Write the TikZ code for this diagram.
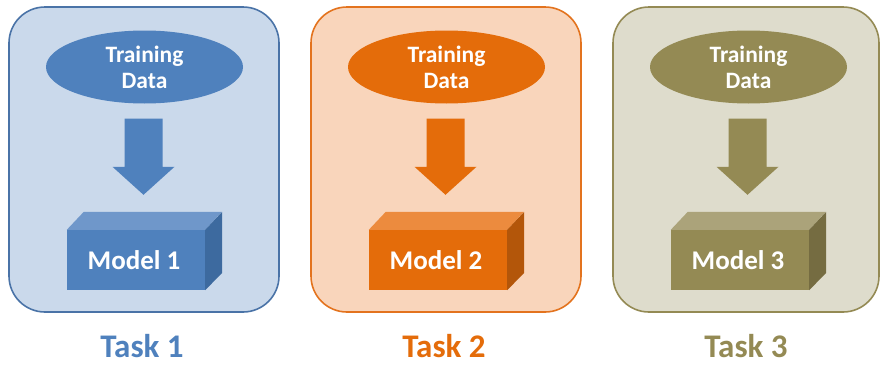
\documentclass[tikz,border=0pt]{standalone}
\usepackage{fontspec}
\setmainfont{Carlito}
\usetikzlibrary{calc,shapes.geometric}

% colour sets: main, lighter top, darker side, panel fill, panel edge
\definecolor{mainA}{HTML}{4F81BD}\definecolor{topA}{HTML}{6F97CA}\definecolor{sideA}{HTML}{3D6A9F}
\definecolor{fillA}{HTML}{CAD9EB}\definecolor{edgeA}{HTML}{4A73A7}
\definecolor{mainB}{HTML}{E46C0A}\definecolor{topB}{HTML}{EC8B3E}\definecolor{sideB}{HTML}{B3560A}
\definecolor{fillB}{HTML}{F9D5BB}\definecolor{edgeB}{HTML}{E3731E}
\definecolor{mainC}{HTML}{948A54}\definecolor{topC}{HTML}{ABA37A}\definecolor{sideC}{HTML}{756C41}
\definecolor{fillC}{HTML}{DEDCCC}\definecolor{edgeC}{HTML}{948A54}

\tikzset{
  panel/.style={rounded corners=36pt, line width=1.6pt},
  datanode/.style={ellipse, minimum width=197pt, minimum height=73pt, inner sep=0pt,
    text=white, font=\bfseries\fontsize{23.5}{26}\selectfont, align=center},
  modelnode/.style={rectangle, minimum width=138pt, minimum height=60pt, inner sep=0pt,
    text=white, font=\bfseries\fontsize{27}{30}\selectfont},
  tasklabel/.style={font=\bfseries\fontsize{33}{36}\selectfont},
}

\begin{document}
\begin{tikzpicture}[x=1pt,y=-1pt]
\useasboundingbox (0,0) rectangle (881,367);

\foreach \i/\ox/\w/\c in {1/0/270/A, 2/302/270/B, 3/604/266/C}{
  % panel background
  \draw[panel, draw=edge\c, fill=fill\c] (9+\ox,7) rectangle ++(\w,305);
  % training data ellipse
  \node[datanode, fill=main\c] (td\i) at (144.5+\ox,67) {Training\\Data};
  % model block (front face)
  \node[modelnode, fill=main\c] (m\i) at (136+\ox,260) {};
  % top and side faces of the block
  \fill[top\c] (m\i.north west) -- ++(17,-18) -- ++(138,0) -- (m\i.north east) -- cycle;
  \fill[side\c] (m\i.north east) -- ++(17,-18) -- ++(0,61) -- (m\i.south east) -- cycle;
  \node[modelnode, text=white, fill=none] at ($(m\i)+(-2,0)$) {Model \i};
  % block arrow from the data to the model
  \coordinate (as\i) at ($(td\i.south)+(-1,15)$);
  \coordinate (ae\i) at ($(m\i.north)+(9,-35)$);
  \fill[main\c] ($(as\i)+(-19,0)$) -- ($(as\i)+(19,0)$) -- ($(as\i |- ae\i)+(19,-28)$)
    -- ($(as\i |- ae\i)+(31,-28)$) -- (as\i |- ae\i) -- ($(as\i |- ae\i)+(-31,-28)$)
    -- ($(as\i |- ae\i)+(-19,-28)$) -- cycle;
  % task caption
  \node[tasklabel, text=main\c] (t\i) at (142+\ox,346) {Task \i};
}
\end{tikzpicture}
\end{document}
